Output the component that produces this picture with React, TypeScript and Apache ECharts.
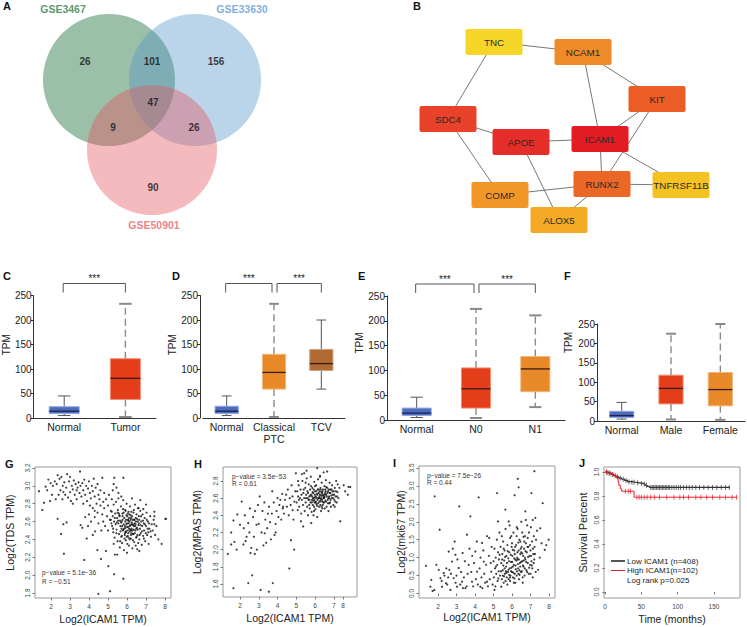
import React, { useEffect, useRef } from "react";
import * as echarts from "echarts";

const FONT = "'Liberation Sans', Arial, Helvetica, sans-serif";

/* ================= DATA ================= */
// A - Venn
const vennSetNames = ["GSE3467", "GSE33630", "GSE50901"];
// only1, 1&2, only2, all three, 1&3, 2&3, only3
const vennRegionCounts = [26, 101, 156, 47, 9, 26, 90];

// B - PPI network
const geneNames = ["TNC", "NCAM1", "KIT", "SDC4", "APOE", "ICAM1", "RUNX2", "TNFRSF11B", "COMP", "ALOX5"];
const geneLinks = [
  ["TNC", "NCAM1"], ["TNC", "SDC4"], ["NCAM1", "ICAM1"], ["NCAM1", "KIT"], ["KIT", "ICAM1"],
  ["KIT", "RUNX2"], ["SDC4", "APOE"], ["SDC4", "COMP"], ["APOE", "ICAM1"], ["APOE", "ALOX5"],
  ["ICAM1", "RUNX2"], ["ICAM1", "TNFRSF11B"], ["RUNX2", "TNFRSF11B"], ["RUNX2", "COMP"], ["RUNX2", "ALOX5"],
];

// C-F boxplots: [low, q1, median, q3, high]
const catC = ["Normal", "Tumor"];
const boxC = [[5, 9, 14, 23, 45], [2, 38, 81, 121, 233]];
const catD = ["Normal", "Classical\nPTC", "TCV"];
const boxD = [[5, 9, 14, 24, 45], [2, 59, 93, 130, 233], [59, 97, 111, 140, 200]];
const catE = ["Normal", "N0", "N1"];
const boxE = [[5, 9, 14, 24, 46], [4, 24, 63, 105, 224], [26, 57, 103, 128, 211]];
const catF = ["Normal", "Male", "Female"];
const boxF = [[5, 9, 14, 25, 48], [4, 44, 84, 118, 225], [3, 39, 81, 125, 250]];
const sigC = [[0, 1, "***"]];
const sigD = [[0, 1, "***"], [1, 2, "***"]];
const sigE = [[0, 1, "***"], [1, 2, "***"]];
const tpmTicks = [0, 50, 100, 150, 200, 250];

// G - Log2(TDS TPM) vs Log2(ICAM1 TPM)
const tdsUpper = [
  [1.37,2.94],[1.54,2.73],[1.63,2.81],[1.72,2.99],[1.86,3.07],[1.98,3.03],[1.8,2.95],[1.95,2.83],[2.05,2.9],[2.1,3.0],
  [2.2,3.05],[2.25,2.85],[2.3,3.02],[2.35,3.12],[2.4,2.9],[2.45,3.08],[2.5,2.95],[2.55,3.1],[2.6,2.85],[2.62,3.0],
  [2.65,2.93],[2.7,3.04],[2.75,2.9],[2.8,2.98],[2.85,3.13],[2.9,2.87],[2.95,3.05],[3.0,2.93],[3.0,3.1],[3.05,2.83],
  [3.1,3.0],[3.15,2.96],[3.15,2.8],[3.2,3.06],[3.25,2.9],[3.3,3.02],[3.35,2.85],[3.35,2.95],[3.4,2.98],[3.45,3.04],
  [3.5,2.92],[3.53,3.16],[3.55,3.0],[3.6,2.88],[3.65,3.03],[3.7,2.95],[3.7,2.8],[3.75,3.07],[3.8,2.9],[3.85,3.0],
  [3.9,2.83],[3.95,2.97],[4.0,3.05],[4.05,2.92],[4.05,2.78],[4.1,2.86],[4.15,3.0],[4.2,2.94],[4.25,3.08],[4.3,2.88],
  [4.3,2.72],[4.35,2.98],[4.4,2.8],[4.45,3.02],[4.5,2.9],[4.55,2.85],[4.6,2.95],[4.7,3.09],[4.75,2.82],[4.8,2.92],
];
const tdsMid = [
  [4.0,2.68],[4.1,2.6],[4.2,2.75],[4.3,2.65],[4.45,2.7],[4.5,2.58],[4.6,2.78],[4.65,2.5],[4.7,2.68],[4.75,2.6],
  [4.8,2.75],[4.85,2.55],[4.9,2.85],[4.95,2.66],[5.0,2.78],[5.0,2.5],[5.05,2.9],[5.1,2.62],[5.15,2.72],[5.2,2.85],
  [5.25,2.95],[5.3,3.02],[5.33,3.09],[5.45,2.98],[5.55,2.92],[5.81,3.09],[5.7,2.88],[3.88,2.41],[3.75,2.17],[3.65,2.53],
  [3.56,2.56],[4.32,2.49],[4.44,2.28],[4.49,1.79],[4.63,2.18],[4.89,2.27],[5.02,2.1],[5.11,1.82],[5.32,2.01],[5.37,2.23],
  [5.49,2.23],[5.81,1.96],[2.35,2.63],[2.53,2.46],[2.65,2.57],[2.68,2.24],[2.82,2.59],[3.8,2.65],[4.2,2.45],[3.95,2.55],
];
const tdsMain = [
  [5.15,2.62],[5.2,2.71],[5.22,2.55],[5.25,2.66],[5.28,2.48],[5.3,2.79],[5.32,2.6],[5.35,2.42],[5.38,2.69],[5.4,2.57],
  [5.3,2.35],[5.42,2.82],[5.45,2.51],[5.48,2.64],[5.5,2.38],[5.52,2.73],[5.55,2.58],[5.58,2.46],[5.6,2.67],[5.62,2.31],
  [5.65,2.55],[5.68,2.77],[5.7,2.43],[5.55,2.86],[5.63,2.61],[5.72,2.6],[5.74,2.36],[5.76,2.69],[5.78,2.5],[5.8,2.84],
  [5.82,2.57],[5.84,2.28],[5.86,2.64],[5.88,2.45],[5.9,2.73],[5.92,2.53],[5.94,2.39],[5.96,2.62],[5.98,2.8],[5.75,2.55],
  [5.85,2.52],[5.95,2.48],[5.79,2.74],[6.0,2.58],[6.02,2.66],[6.04,2.44],[6.06,2.54],[6.08,2.71],[6.1,2.33],[6.12,2.6],
  [6.14,2.49],[6.16,2.77],[6.18,2.56],[6.2,2.41],[6.22,2.64],[6.24,2.52],[6.26,2.86],[6.28,2.3],[6.05,2.62],[6.15,2.55],
  [6.25,2.59],[6.03,2.5],[6.13,2.68],[6.23,2.47],[6.0,2.25],[6.3,2.62],[6.32,2.46],[6.34,2.7],[6.36,2.55],[6.38,2.37],
  [6.4,2.58],[6.42,2.79],[6.44,2.5],[6.46,2.64],[6.48,2.42],[6.5,2.68],[6.52,2.53],[6.54,2.29],[6.56,2.6],[6.58,2.75],
  [6.35,2.51],[6.45,2.57],[6.55,2.45],[6.6,2.56],[6.62,2.66],[6.65,2.4],[6.68,2.52],[6.7,2.72],[6.72,2.47],[6.75,2.6],
  [6.78,2.34],[6.8,2.55],[6.82,2.68],[6.85,2.44],[6.88,2.58],[6.7,2.84],[6.65,2.27],[6.9,2.5],[6.93,2.64],[6.96,2.38],
  [7.0,2.55],[7.03,2.7],[7.06,2.45],[7.1,2.6],[7.14,2.35],[7.18,2.52],[7.22,2.66],[7.26,2.43],[7.3,2.57],[7.0,2.79],
  [7.12,2.48],[7.35,2.5],[7.4,2.62],[7.44,2.71],[7.44,2.66],[7.44,2.57],[7.48,2.45],[7.55,2.55],[7.65,2.4],[7.82,2.35],
  [8.02,2.63],[8.05,2.63],[5.97,2.57],[6.07,2.61],[6.11,2.52],[5.89,2.47],[6.19,2.67],[5.77,2.62],[6.21,2.5],[6.39,2.62],
  [5.61,2.66],[6.49,2.52],[6.29,2.57],[5.93,2.72],[6.09,2.42],[5.71,2.52],[6.33,2.46],[6.63,2.58],[5.51,2.7],[6.61,2.75],
  [5.18,2.58],[5.27,2.52],[5.36,2.64],[5.44,2.47],[5.53,2.61],[5.57,2.69],[5.66,2.49],[5.69,2.59],[5.73,2.44],[5.77,2.66],
  [5.81,2.51],[5.83,2.7],[5.87,2.41],[5.91,2.6],[5.93,2.49],[5.97,2.67],[5.99,2.43],[6.01,2.54],[6.04,2.69],[6.07,2.47],
  [6.09,2.58],[6.11,2.64],[6.14,2.4],[6.17,2.51],[6.19,2.62],[6.21,2.45],[6.24,2.57],[6.27,2.66],[6.29,2.5],[6.31,2.39],
  [6.33,2.56],[6.37,2.62],[6.41,2.47],[6.43,2.55],[6.47,2.6],[6.51,2.43],[6.53,2.63],[6.57,2.51],[6.59,2.36],[6.64,2.62],
  [6.67,2.45],[6.71,2.56],[6.74,2.66],[6.79,2.49],[6.84,2.61],[6.89,2.41],[6.94,2.57],[6.99,2.47],[7.04,2.62],[7.09,2.52],
  [7.16,2.58],[7.24,2.49],[5.89,2.55],[6.02,2.35],[6.23,2.71],[6.46,2.33],[5.64,2.38],[6.86,2.74],[5.46,2.59],[6.36,2.73],
];

// H - Log2(MPAS TPM) vs Log2(ICAM1 TPM)
const mpasLow = [
  [1.35,1.95],[1.53,2.06],[1.53,2.2],[1.65,2.34],[1.7,2.09],[1.86,2.41],[1.82,2.0],[1.65,1.55],[2.0,2.29],[2.09,2.56],
  [2.18,2.06],[2.26,2.4],[2.35,2.15],[2.44,1.61],[2.44,2.31],[2.53,2.48],[2.56,1.96],[2.65,1.7],[2.74,2.15],[2.79,1.95],
  [2.88,2.29],[2.96,2.52],[3.05,2.62],[3.1,1.53],[3.32,2.19],[3.4,2.08],[3.49,2.42],[3.54,1.51],[3.72,2.68],[3.75,1.61],
  [3.84,2.17],[4.1,2.52],[4.28,2.48],[4.46,2.64],[4.63,1.78],[4.72,2.11],[4.81,2.46],[4.89,2.0],[4.98,2.89],[5.25,2.33],
  [5.37,2.27],[5.42,2.89],[2.2,2.25],[2.6,2.02],[2.7,2.38],[2.9,2.0],[3.0,2.3],[3.15,2.2],[3.2,2.45],[3.25,2.05],
  [3.35,2.35],[3.45,2.25],[3.55,2.5],[3.6,2.32],[3.65,2.12],[3.7,2.42],[3.8,2.55],[3.9,2.3],[3.95,2.45],[4.0,2.6],
  [4.05,2.38],[4.15,2.58],[4.2,2.35],[4.25,2.65],[4.3,2.5],[4.35,2.42],[4.4,2.58],[4.5,2.5],[4.55,2.7],[4.6,2.4],
  [4.65,2.6],[4.7,2.52],[4.75,2.75],[4.8,2.62],[4.85,2.35],[4.9,2.56],[4.95,2.68],[2.3,2.1],[2.5,2.2],[2.8,2.45],
  [3.3,2.55],[3.9,2.2],
];
const mpasMain = [
  [5.02,2.55],[5.05,2.68],[5.08,2.46],[5.1,2.62],[5.13,2.75],[5.16,2.5],[5.2,2.6],[5.23,2.7],[5.26,2.42],[5.3,2.58],
  [5.33,2.8],[5.36,2.52],[5.38,2.66],[5.42,2.6],[5.45,2.45],[5.48,2.72],[5.5,2.55],[5.53,2.64],[5.56,2.83],[5.58,2.5],
  [5.6,2.68],[5.62,2.4],[5.65,2.58],[5.67,2.76],[5.7,2.62],[5.72,2.48],[5.74,2.7],[5.76,2.55],[5.78,2.85],[5.5,2.78],
  [5.61,2.6],[5.8,2.64],[5.82,2.44],[5.84,2.58],[5.86,2.72],[5.88,2.52],[5.9,2.66],[5.92,2.4],[5.94,2.6],[5.96,2.79],
  [5.98,2.55],[6.0,2.68],[6.02,2.47],[6.04,2.62],[6.06,2.75],[6.08,2.53],[6.1,2.65],[6.12,2.38],[6.14,2.58],[6.16,2.82],
  [6.18,2.6],[5.85,2.62],[5.95,2.5],[6.05,2.56],[6.15,2.7],[5.91,2.57],[6.01,2.61],[6.11,2.51],[6.2,2.66],[6.22,2.5],
  [6.24,2.62],[6.26,2.85],[6.28,2.56],[6.3,2.7],[6.32,2.45],[6.34,2.63],[6.36,2.78],[6.38,2.58],[6.4,2.68],[6.42,2.52],
  [6.44,2.64],[6.46,2.9],[6.48,2.6],[6.5,2.74],[6.52,2.48],[6.54,2.66],[6.56,2.57],[6.58,2.81],[6.25,2.6],[6.35,2.67],
  [6.45,2.55],[6.55,2.7],[6.31,2.58],[6.41,2.63],[6.51,2.61],[6.29,2.72],[6.39,2.48],[6.6,2.64],[6.62,2.5],[6.65,2.72],
  [6.65,2.91],[6.68,2.58],[6.7,2.68],[6.72,2.45],[6.75,2.62],[6.78,2.78],[6.8,2.55],[6.82,2.66],[6.85,2.5],[6.88,2.7],
  [6.9,2.6],[6.91,2.75],[6.95,2.64],[6.98,2.52],[6.71,2.6],[6.81,2.7],[6.76,2.54],[7.0,2.68],[7.03,2.58],[7.06,2.72],
  [7.1,2.62],[7.13,2.8],[7.16,2.55],[7.2,2.67],[7.25,2.6],[7.3,2.72],[7.35,2.33],[7.05,2.5],[7.21,2.76],[7.53,2.75],
  [7.61,2.68],[7.79,2.73],[7.88,2.73],[7.75,2.64],[6.12,2.95],[6.27,2.86],[5.8,2.31],[5.3,2.88],[5.1,2.8],[5.55,2.92],
  [5.14,2.58],[5.28,2.64],[5.4,2.7],[5.52,2.6],[5.63,2.66],[5.69,2.52],[5.75,2.63],[5.79,2.74],[5.83,2.55],[5.87,2.67],
  [5.89,2.6],[5.93,2.7],[5.97,2.58],[5.99,2.64],[6.03,2.55],[6.07,2.68],[6.09,2.6],[6.13,2.64],[6.17,2.54],[6.19,2.7],
  [6.21,2.6],[6.23,2.56],[6.27,2.64],[6.29,2.52],[6.33,2.6],[6.37,2.66],[6.39,2.56],[6.43,2.7],[6.47,2.62],[6.49,2.55],
  [6.53,2.64],[6.57,2.68],[6.59,2.56],[6.63,2.62],[6.67,2.66],[6.69,2.54],[6.73,2.7],[6.77,2.6],[6.79,2.66],[6.83,2.58],
  [6.87,2.63],[6.93,2.68],[6.97,2.6],[7.02,2.64],[7.08,2.56],[7.12,2.68],[7.18,2.62],[5.71,2.58],[6.0,2.74],[6.25,2.68],
  [6.45,2.6],[6.6,2.73],[5.95,2.45],[6.35,2.5],
];

// I - Log2(mki67 TPM) vs Log2(ICAM1 TPM)
const mki67Low = [
  [1.35,0.77],[1.59,0.19],[1.64,0.38],[1.71,0.07],[1.8,0.1],[1.82,2.71],[1.91,0.8],[2.09,1.78],[2.04,0.66],[2.13,0.43],
  [2.22,0.19],[2.31,0.57],[2.43,0.29],[2.58,1.17],[2.61,0.66],[2.67,0.1],[2.76,0.89],[2.85,0.43],[2.9,1.45],[2.94,1.08],
  [3.03,0.19],[3.12,0.71],[3.15,2.43],[3.3,0.33],[3.33,1.13],[3.48,0.15],[3.57,1.64],[3.66,0.8],[3.75,2.15],[3.84,0.33],
  [4.02,1.17],[4.11,0.61],[4.2,2.68],[4.29,0.19],[4.38,1.41],[4.47,0.89],[4.65,0.33],[4.77,1.55],[4.88,0.61],[2.2,0.35],
  [2.35,0.5],[2.5,0.25],[2.55,0.45],[2.7,0.55],[2.8,1.25],[3.0,0.5],[3.05,0.95],[3.2,0.25],[3.25,0.6],[3.4,0.45],
  [3.45,0.9],[3.55,0.2],[3.6,0.55],[3.7,1.25],[3.8,0.6],[3.9,0.2],[3.95,0.85],[4.05,0.4],[4.1,1.45],[4.15,0.25],
  [4.25,0.7],[4.3,1.0],[4.35,0.45],[4.4,0.15],[4.45,1.2],[4.5,0.55],[4.55,0.3],[4.6,0.8],[4.7,0.2],[4.75,1.05],
  [4.8,0.4],[4.85,0.85],[4.9,1.3],[4.95,0.25],[2.45,0.7],[2.95,0.3],[3.35,0.15],[3.85,1.05],[4.65,1.6],
];
const mki67Main = [
  [5.0,0.9],[5.02,0.45],[5.05,1.25],[5.08,0.7],[5.1,0.2],[5.12,1.0],[5.15,0.55],[5.18,1.5],[5.2,0.8],[5.22,0.35],
  [5.25,1.15],[5.28,0.62],[5.3,0.95],[5.32,1.7],[5.35,0.5],[5.38,1.3],[5.24,2.01],[5.19,2.8],[5.42,0.19],[5.05,0.1],
  [5.42,0.85],[5.45,0.4],[5.48,1.1],[5.5,0.65],[5.52,1.45],[5.55,0.3],[5.58,0.92],[5.6,1.2],[5.62,0.55],[5.64,2.34],
  [5.65,1.8],[5.68,0.75],[5.7,1.05],[5.72,0.45],[5.75,1.35],[5.78,0.6],[5.8,0.98],[5.5,0.5],[5.6,0.7],[5.7,0.58],
  [5.45,1.6],[5.55,1.25],[5.65,0.35],[5.82,2.01],[5.82,0.4],[5.85,1.15],[5.88,0.7],[5.9,1.55],[5.92,0.5],[5.95,0.88],
  [5.98,1.3],[6.0,0.6],[6.02,1.05],[6.05,0.45],[6.08,1.7],[6.1,0.8],[6.12,1.2],[6.14,2.74],[6.15,0.55],[6.18,0.95],
  [5.9,0.35],[6.0,1.4],[6.1,0.3],[5.95,0.62],[6.05,0.75],[6.15,1.1],[5.85,0.52],[6.2,0.68],[5.87,1.9],[6.22,1.35],
  [6.25,0.5],[6.28,1.0],[6.3,1.8],[6.31,3.2],[6.33,0.7],[6.36,2.96],[6.36,1.2],[6.38,0.4],[6.4,1.5],[6.42,0.85],
  [6.45,1.1],[6.48,0.6],[6.5,2.0],[6.52,1.3],[6.55,0.9],[6.58,0.45],[6.3,0.95],[6.4,0.65],[6.5,1.15],[6.25,1.6],
  [6.45,1.45],[6.35,0.55],[6.55,1.7],[6.6,1.05],[6.62,0.75],[6.65,1.25],[6.68,0.5],[6.7,1.6],[6.72,2.29],[6.72,0.95],
  [6.75,1.4],[6.78,0.65],[6.8,1.15],[6.82,1.9],[6.85,0.85],[6.88,1.3],[6.9,0.55],[6.92,1.7],[6.95,1.05],[6.98,0.8],
  [6.7,1.0],[6.85,1.55],[6.75,2.05],[7.0,1.2],[7.02,1.85],[7.05,2.8],[7.05,0.9],[7.08,1.45],[7.1,0.7],[7.12,2.05],
  [7.15,1.1],[7.18,1.6],[7.2,0.95],[7.21,3.41],[7.22,1.3],[7.26,2.11],[7.28,0.6],[7.3,1.5],[7.35,1.75],[7.41,0.66],
  [7.0,0.55],[7.53,1.82],[7.66,2.52],[7.77,1.22],[7.98,1.5],[7.85,1.35],[7.5,1.0],[7.6,1.4],
  [5.13,0.75],[5.26,0.42],[5.33,1.08],[5.41,0.62],[5.47,0.95],[5.53,0.78],[5.57,0.48],[5.63,1.02],[5.67,0.62],[5.73,0.85],
  [5.77,1.18],[5.81,0.66],[5.84,0.9],[5.89,0.45],[5.93,1.08],[5.97,0.72],[6.01,0.88],[6.04,1.22],[6.07,0.58],[6.11,0.98],
  [6.13,0.42],[6.17,1.3],[6.19,0.78],[6.23,0.92],[6.27,0.62],[6.29,1.15],[6.32,0.82],[6.34,1.42],[6.37,0.95],[6.41,0.52],
  [6.44,0.75],[6.47,1.25],[6.49,0.88],[6.53,0.62],[6.56,1.12],[6.59,0.78],[6.63,0.92],[6.66,1.45],[6.69,0.7],[6.73,1.18],
  [6.77,0.88],[6.81,0.6],[6.84,1.3],[6.87,1.02],[6.93,0.72],[6.97,1.35],[7.03,1.05],[7.07,0.78],[7.13,1.25],[7.17,0.85],
  [7.24,1.1],[5.96,1.6],[6.26,1.85],[6.62,1.58],[6.18,0.3],[6.58,0.3],[5.75,0.25],[7.12,0.45],
];

// J - Kaplan-Meier curves: [time (months), survival]
const lowIcam1Km = [[0,1],[3,0.995],[6,0.99],[9,0.98],[12,0.97],[15,0.96],[19,0.95],[23,0.94],[27,0.93],[31,0.92],[36,0.915],[42,0.91],[48,0.905],[52,0.9],[55,0.89],[58,0.88],[61,0.872],[172,0.872]];
const highIcam1Km = [[0,1],[4,0.99],[8,0.98],[13,0.97],[16,0.95],[18,0.92],[19,0.89],[21,0.86],[23,0.84],[40,0.79],[182,0.79]];
const lowIcam1Censored = [2,4,7,10,14,17,21,25,29,33,37,40,45,50,54,57,63,65,67,69,71,73,75,77,79,81,83,85,87,89,92,95,98,101,104,108,112,116,120,125,130,136,142,148,154,160,166,171];
const highIcam1Censored = [2,6,11,28,32,35,44,47,50,54,58,63,68,75,85,95,103,108,115,125,132,140,148,158,166,175,181];
const survLegend = ["Low ICAM1 (n=408)", "High ICAM1(n=102)", "Log rank p=0.025"];

// scatter tick labels
const gTicksX = [2, 3, 4, 5, 6, 7, 8];
const gTicksY = [1.8, 2.0, 2.2, 2.4, 2.6, 2.8, 3.0, 3.2];
const hTicksX = [2, 3, 4, 5, 6, 7, 7.5];
const hTickLabelsX = ["2", "3", "4", "5", "6", "7", "8"];
const hTicksY = [1.6, 1.8, 2.0, 2.2, 2.4, 2.6, 2.8];
const iTicksX = [2, 3, 4, 5, 6, 7, 8];
const iTicksY = [0, 0.5, 1.0, 1.5, 2.0, 2.5, 3.0, 3.5];
const jTicksX = [0, 50, 100, 150];
const jTicksY = [0, 0.2, 0.4, 0.6, 0.8, 1.0];
const statTexts = [
  ["p\u2212value = 5.1e\u221236", "R = \u22120.51"],
  ["p\u2212value = 3.5e\u221253", "R = 0.61"],
  ["p\u2212value = 7.5e\u221226", "R = 0.44"],
];

/* ================= LAYOUT / STYLE ================= */
const VENN_CENTERS = [[109, 80], [195, 80], [152, 150]];
const VENN_DIAM = [132, 132, 130];
const VENN_FILLS = ["rgba(30,110,60,0.55)", "rgba(83,147,199,0.5)", "rgba(229,83,93,0.5)"];
const VENN_SET_COLORS = ["#2e7d46", "#5b9bd5", "#e8606a"];
const VENN_SET_POS = [[63, 9], [242, 9], [154, 225]];
const VENN_COUNT_POS = [[85, 61], [152, 61], [216, 61], [153, 102], [113, 127], [194, 127], [153, 187]];
const GENE_POS = [[494, 42], [583, 52], [657, 99], [448, 119], [521, 142], [600, 139], [602, 184], [681, 185], [500, 195], [559, 220]];
const GENE_COLORS = ["#f5d628", "#ef8a2b", "#eb5d24", "#e8432a", "#e52e2a", "#e31b23", "#ea6726", "#f5c223", "#f29727", "#f4aa24"];
const NODE_SYMBOL = "path://M2,0H55Q57,0 57,2V24Q57,26 55,26H2Q0,26 0,24V2Q0,0 2,0Z";
const PANEL_LETTERS = [["A", 3, 6], ["B", 413, 6], ["C", 3, 276], ["D", 172, 276], ["E", 358, 276], ["F", 564, 276], ["G", 5, 464], ["H", 194, 464], ["I", 393, 463], ["J", 579, 463]];
const STAT_POS = [[42, 572, 581], [232, 476, 483], [427, 475, 482]];
const LEGEND_Y = [561, 570.5, 580.5];

const BLUE = "#4c6cc0", RED = "#e43d1a", ORANGE = "#e8892a", BROWN = "#b06b35";
const EDGE: Record<string, string> = { [BLUE]: "#93a6dc", [RED]: "#f28d72", [ORANGE]: "#f3b67a", [BROWN]: "#cfa07a" };

function boxSeries(gi: number, boxes: number[][], colors: string[], dashed: boolean[]) {
  return {
    type: "custom",
    xAxisIndex: gi,
    yAxisIndex: gi,
    data: boxes.map((b, i) => [i, ...b]),
    encode: { x: 0, y: [1, 2, 3, 4, 5] },
    renderItem: (params: any, api: any) => {
      const i = api.value(0);
      const ys = [1, 2, 3, 4, 5].map((d) => api.coord([i, api.value(d)])[1]);
      const [lo, q1, md, q3, hi] = ys;
      const cx = api.coord([i, 0])[0];
      const bw = api.size([1, 0])[0] * 0.49;
      const cap = bw * 0.42;
      const isD = dashed[params.dataIndex];
      const col = colors[params.dataIndex];
      const wStyle: any = isD
        ? { stroke: "#8a8a8a", lineWidth: 1.4, lineDash: [7, 4] }
        : { stroke: "#555", lineWidth: 1 };
      const cStyle: any = { stroke: isD ? "#8a8a8a" : "#555", lineWidth: isD ? 2 : 1 };
      return {
        type: "group",
        children: [
          { type: "line", shape: { x1: cx, y1: q3, x2: cx, y2: hi }, style: wStyle },
          { type: "line", shape: { x1: cx, y1: q1, x2: cx, y2: lo }, style: wStyle },
          { type: "line", shape: { x1: cx - cap / 2, y1: hi, x2: cx + cap / 2, y2: hi }, style: cStyle },
          { type: "line", shape: { x1: cx - cap / 2, y1: lo, x2: cx + cap / 2, y2: lo }, style: cStyle },
          { type: "rect", shape: { x: cx - bw / 2, y: q3, width: bw, height: q1 - q3 }, style: { fill: col, stroke: EDGE[col] || col, lineWidth: 1 } },
          { type: "line", shape: { x1: cx - bw / 2, y1: md, x2: cx + bw / 2, y2: md }, style: { stroke: col === BLUE ? "#1b2550" : "#3b1c12", lineWidth: 1.3 } },
        ],
      };
    },
  };
}

function sigSeries(gi: number, sigs: any[], nCat: number) {
  return {
    type: "custom",
    xAxisIndex: gi,
    yAxisIndex: gi,
    data: sigs.map((s) => ({ value: [s[0], 250, s[1]], name: s[2] })),
    encode: { x: 0, y: 1 },
    renderItem: (params: any, api: any) => {
      const i0 = api.value(0), i1 = api.value(2);
      const p0 = api.coord([i0, 250]), p1 = api.coord([i1, 250]);
      const top = p0[1] - 12, bot = top + 9;
      const x0 = p0[0] + (i0 > 0 ? 3 : -1);
      const x1 = p1[0] - (i1 < nCat - 1 ? 2 : 0);
      return {
        type: "group",
        children: [
          { type: "polyline", shape: { points: [[x0, bot], [x0, top], [x1, top], [x1, bot]] }, style: { stroke: "#555", lineWidth: 1, fill: null } },
          { type: "text", x: (x0 + x1) / 2, y: top - 5, style: { text: sigs[params.dataIndex][2], fontSize: 10, fontFamily: FONT, fill: "#222", textAlign: "center", textVerticalAlign: "middle" } },
        ],
      };
    },
  };
}

function boxXAxis(gi: number, cats: string[]) {
  return {
    gridIndex: gi,
    type: "category",
    data: cats,
    axisTick: { show: false },
    axisLine: { lineStyle: { color: "#333", width: 1 } },
    axisLabel: { interval: 0, fontSize: 10.5, color: "#222", margin: 3, lineHeight: 12, fontFamily: FONT },
  };
}

function boxYAxis(gi: number, nameShift: number, gap: number, offset = 0) {
  return {
    gridIndex: gi,
    type: "value",
    min: 0,
    max: 250,
    offset,
    splitLine: { show: false },
    axisLine: { show: true, lineStyle: { color: "#333", width: 1 } },
    axisTick: { show: true, length: 3, lineStyle: { color: "#333" }, customValues: tpmTicks },
    axisLabel: { fontSize: 10, color: "#222", margin: 2, fontFamily: FONT, customValues: tpmTicks },
    name: "TPM",
    nameLocation: "middle",
    nameGap: gap,
    nameTextStyle: { fontSize: 10, color: "#222", fontFamily: FONT, padding: [0, 0, 0, nameShift * 2] },
  };
}

function scatterAxes(gi: number, xr: number[], yr: number[], xt: number[], yt: number[], xName: string, yName: string, xGap: number, yGap: number, xFmt: any, yFmt: any) {
  const tickStyle = { show: true, length: 2.5, lineStyle: { color: "#777" } };
  const lab = { fontSize: 6.5, color: "#444", fontFamily: FONT };
  return {
    x: {
      gridIndex: gi, type: "value", min: xr[0], max: xr[1],
      splitLine: { show: false }, axisLine: { show: false },
      axisTick: { ...tickStyle, customValues: xt },
      axisLabel: { ...lab, margin: 5, customValues: xt, formatter: xFmt },
      name: xName, nameLocation: "middle", nameGap: xGap,
      nameTextStyle: { fontSize: 10.5, color: "#222", fontFamily: FONT },
    },
    y: {
      gridIndex: gi, type: "value", min: yr[0], max: yr[1],
      splitLine: { show: false }, axisLine: { show: false },
      axisTick: { ...tickStyle, customValues: yt },
      axisLabel: { ...lab, margin: 4, rotate: 90, customValues: yt, formatter: yFmt },
      name: yName, nameLocation: "middle", nameGap: yGap,
      nameTextStyle: { fontSize: 10.5, color: "#222", fontFamily: FONT },
    },
  };
}

const kmAt = (curve: number[][], t: number) => {
  let s = curve[0][1];
  for (const [tt, v] of curve) if (tt <= t) s = v;
  return s;
};

function buildOption() {
  const fmt1 = (v: number) => v.toFixed(1);
  const fmt0 = (v: number) => String(Math.round(v));
  const g = scatterAxes(4, [1.158, 8.316], [1.744, 3.211], gTicksX, gTicksY, "Log2(ICAM1 TPM)", "Log2(TDS TPM)", 15, 19.5, fmt0, fmt1);
  const h = scatterAxes(5, [1.093, 8.24], [1.448, 2.963], hTicksX, hTicksY, "Log2(ICAM1 TPM)", "Log2(MPAS TPM)", 15, 20.5,
    (v: number) => hTickLabelsX[hTicksX.indexOf(v)] ?? "", fmt1);
  const ia = scatterAxes(6, [0.973, 8.324], [-0.125, 3.556], iTicksX, iTicksY, "Log2(ICAM1 TPM)", "Log2(mki67 TPM)", 13, 13, fmt0, fmt1);
  const j = scatterAxes(7, [-1.38, 185.8], [-0.05, 1.042], jTicksX, jTicksY, "Time (months)", "Survival Percent", 15, 15.5, fmt0, fmt1);
  (j.y.nameTextStyle as any).fontSize = 11;

  const scatterBorder = { show: true, borderColor: "#9a9a9a", borderWidth: 1, backgroundColor: "transparent" };
  const grids = [
    { left: 31, top: 295.5, width: 125, height: 122.5 },
    { left: 203, top: 295.5, width: 142, height: 122.5 },
    { left: 387, top: 296, width: 178, height: 124 },
    { left: 597, top: 324, width: 148, height: 97 },
    { left: 35, top: 467, width: 136, height: 131, ...scatterBorder },
    { left: 223, top: 467, width: 134, height: 130, ...scatterBorder },
    { left: 419, top: 466, width: 136, height: 132, ...scatterBorder },
    { left: 604, top: 467, width: 136, height: 131, ...scatterBorder },
    { left: 0, top: 0, width: 747, height: 627 },
  ];

  const dot = { type: "scatter", symbol: "circle", symbolSize: 2.2, itemStyle: { color: "#111" }, silent: true };

  const series: any[] = [
    // Venn circles
    {
      type: "scatter", xAxisIndex: 8, yAxisIndex: 8, silent: true, z: 1,
      data: vennSetNames.map((n, i) => ({ name: n, value: VENN_CENTERS[i], symbolSize: VENN_DIAM[i], itemStyle: { color: VENN_FILLS[i] } })),
    },
    // Venn counts
    {
      type: "scatter", xAxisIndex: 8, yAxisIndex: 8, silent: true, z: 2, symbolSize: 1,
      itemStyle: { color: "transparent" },
      data: vennRegionCounts.map((c, i) => ({ name: String(c), value: VENN_COUNT_POS[i] })),
      label: { show: true, position: "inside", formatter: "{b}", fontSize: 10, fontWeight: "bold", color: "#111", fontFamily: FONT },
    },
    // Venn set names
    {
      type: "scatter", xAxisIndex: 8, yAxisIndex: 8, silent: true, z: 2, symbolSize: 1,
      itemStyle: { color: "transparent" },
      data: vennSetNames.map((n, i) => ({ name: n, value: VENN_SET_POS[i], label: { color: VENN_SET_COLORS[i] } })),
      label: { show: true, position: "inside", formatter: "{b}", fontSize: 10.5, fontWeight: "bold", fontFamily: FONT },
    },
    // Network
    {
      type: "graph", coordinateSystem: "cartesian2d", xAxisIndex: 8, yAxisIndex: 8, layout: "none", z: 3,
      symbol: NODE_SYMBOL, symbolSize: [57, 26],
      data: geneNames.map((n, i) => ({ name: n, value: GENE_POS[i], itemStyle: { color: GENE_COLORS[i] } })),
      links: geneLinks.map(([s, t]) => ({ source: s, target: t })),
      lineStyle: { color: "#555", width: 0.8, opacity: 1, curveness: 0 },
      label: { show: true, position: "inside", fontSize: 9.8, color: "#2a2a2a", fontFamily: FONT },
      emphasis: { disabled: true },
    },
    // Boxplots
    boxSeries(0, boxC, [BLUE, RED], [false, true]),
    boxSeries(1, boxD, [BLUE, ORANGE, BROWN], [false, true, false]),
    boxSeries(2, boxE, [BLUE, RED, ORANGE], [false, true, true]),
    boxSeries(3, boxF, [BLUE, RED, ORANGE], [false, true, true]),
    sigSeries(0, sigC, catC.length),
    sigSeries(1, sigD, catD.length),
    sigSeries(2, sigE, catE.length),
    // Scatter plots
    { ...dot, xAxisIndex: 4, yAxisIndex: 4, data: [...tdsUpper, ...tdsMid, ...tdsMain] },
    { ...dot, xAxisIndex: 5, yAxisIndex: 5, data: [...mpasLow, ...mpasMain] },
    { ...dot, xAxisIndex: 6, yAxisIndex: 6, data: [...mki67Low, ...mki67Main] },
    // Survival
    { type: "line", xAxisIndex: 7, yAxisIndex: 7, step: "end", showSymbol: false, silent: true, data: lowIcam1Km, lineStyle: { color: "#333", width: 1.2 }, z: 3 },
    { type: "line", xAxisIndex: 7, yAxisIndex: 7, step: "end", showSymbol: false, silent: true, data: highIcam1Km, lineStyle: { color: "#e8212a", width: 1 }, z: 4 },
    { type: "scatter", xAxisIndex: 7, yAxisIndex: 7, silent: true, symbol: "rect", symbolSize: [0.9, 5], itemStyle: { color: "#333" }, data: lowIcam1Censored.map((t) => [t, kmAt(lowIcam1Km, t)]), z: 3 },
    { type: "scatter", xAxisIndex: 7, yAxisIndex: 7, silent: true, symbol: "rect", symbolSize: [0.9, 5], itemStyle: { color: "#e8212a" }, data: highIcam1Censored.map((t) => [t, kmAt(highIcam1Km, t)]), z: 4 },
  ];

  const graphic: any[] = [];
  PANEL_LETTERS.forEach(([t, x, y]) => {
    graphic.push({ type: "text", x, y, style: { text: t, fontSize: 11, fontWeight: "bold", fontFamily: FONT, fill: "#111", textVerticalAlign: "middle" } });
  });
  statTexts.forEach((pair, i) => {
    const [x, y1, y2] = STAT_POS[i];
    graphic.push({ type: "text", x, y: y1, style: { text: pair[0], fontSize: 6.5, fontFamily: FONT, fill: "#333", textVerticalAlign: "middle" } });
    graphic.push({ type: "text", x, y: y2, style: { text: pair[1], fontSize: 6.5, fontFamily: FONT, fill: "#333", textVerticalAlign: "middle" } });
  });
  // survival legend
  graphic.push({ type: "line", shape: { x1: 611, y1: LEGEND_Y[0], x2: 625, y2: LEGEND_Y[0] }, style: { stroke: "#555", lineWidth: 2 } });
  graphic.push({ type: "line", shape: { x1: 611, y1: LEGEND_Y[1], x2: 625, y2: LEGEND_Y[1] }, style: { stroke: "#e8212a", lineWidth: 1 } });
  LEGEND_Y.forEach((y, i) => {
    graphic.push({ type: "text", x: 627, y, style: { text: survLegend[i], fontSize: 8, fontFamily: FONT, fill: "#222", textVerticalAlign: "middle" } });
  });

  return {
    animation: false,
    backgroundColor: "#fff",
    textStyle: { fontFamily: FONT },
    grid: grids,
    xAxis: [
      boxXAxis(0, catC), boxXAxis(1, catD), boxXAxis(2, catE), boxXAxis(3, catF),
      g.x, h.x, ia.x, j.x,
      { gridIndex: 8, type: "value", min: 0, max: 747, show: false },
    ],
    yAxis: [
      boxYAxis(0, 12, 19), boxYAxis(1, 12, 19, 3), boxYAxis(2, 15, 19), boxYAxis(3, 30, 24),
      g.y, h.y, ia.y, j.y,
      { gridIndex: 8, type: "value", min: 0, max: 627, inverse: true, show: false },
    ],
    series,
    graphic,
  };
}

export default function App() {
  const ref = useRef<HTMLDivElement>(null);
  useEffect(() => {
    document.body.style.margin = "0";
    const chart = echarts.init(ref.current as HTMLDivElement, null, { renderer: "svg" });
    chart.setOption(buildOption() as any);
    return () => chart.dispose();
  }, []);
  return <div ref={ref} style={{ width: 747, height: 627 }} />;
}
